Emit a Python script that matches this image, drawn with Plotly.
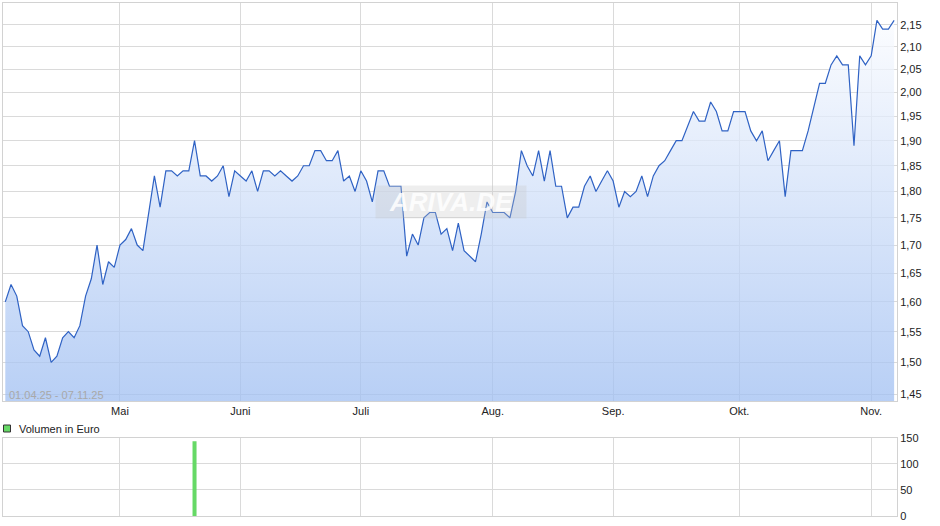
import math
import pandas as pd
import plotly.graph_objects as go

# ---------------- data ----------------
holidays = ["2025-04-18", "2025-04-21", "2025-05-01"]
dates = [d.strftime("%Y-%m-%d") for d in pd.bdate_range("2025-04-01", "2025-11-07")
         if d.strftime("%Y-%m-%d") not in holidays]

prices = [
    1.60, 1.63, 1.61, 1.56, 1.55, 1.52, 1.51, 1.54, 1.50, 1.51,
    1.54, 1.55, 1.54, 1.56, 1.61, 1.64, 1.70, 1.63, 1.67, 1.66,
    1.70, 1.71, 1.73, 1.70, 1.69, 1.76, 1.83, 1.77, 1.84, 1.84,
    1.83, 1.84, 1.84, 1.90, 1.83, 1.83, 1.82, 1.83, 1.85, 1.79,
    1.84, 1.83, 1.82, 1.84, 1.80, 1.84, 1.84, 1.83, 1.84, 1.83,
    1.82, 1.83, 1.85, 1.85, 1.88, 1.88, 1.86, 1.86, 1.88, 1.82,
    1.83, 1.80, 1.84, 1.82, 1.78, 1.84, 1.84, 1.81, 1.81, 1.81,
    1.68, 1.72, 1.70, 1.75, 1.76, 1.76, 1.72, 1.73, 1.69, 1.74,
    1.69, 1.68, 1.67, 1.72, 1.78, 1.76, 1.76, 1.76, 1.75, 1.80,
    1.88, 1.85, 1.83, 1.88, 1.82, 1.88, 1.81, 1.81, 1.75, 1.77,
    1.77, 1.81, 1.83, 1.80, 1.82, 1.84, 1.82, 1.77, 1.80, 1.79,
    1.80, 1.83, 1.79, 1.83, 1.85, 1.86, 1.88, 1.90, 1.90, 1.93,
    1.96, 1.94, 1.94, 1.98, 1.96, 1.92, 1.92, 1.96, 1.96, 1.96,
    1.92, 1.90, 1.92, 1.86, 1.88, 1.90, 1.79, 1.88, 1.88, 1.88,
    1.92, 1.97, 2.02, 2.02, 2.06, 2.08, 2.06, 2.06, 1.89, 2.08,
    2.06, 2.08, 2.16, 2.14, 2.14, 2.16,
]

volume_dates = ["2025-05-21"]
volume_values = [143]

price_ticks = [1.45, 1.50, 1.55, 1.60, 1.65, 1.70, 1.75, 1.80,
               1.85, 1.90, 1.95, 2.00, 2.05, 2.10, 2.15]
volume_ticks = [0, 50, 100, 150]
month_labels = ["Mai", "Juni", "Juli", "Aug.", "Sep.", "Okt.", "Nov."]
date_range_label = "01.04.25 - 07.11.25"
volume_label = "Volumen in Euro"
watermark = "ARIVA.DE"

# first trading day of each month (after April)
month_starts = []
seen = set()
for d in dates:
    if d[:7] not in seen:
        seen.add(d[:7])
        month_starts.append(d)
month_starts = month_starts[1:]

# ---------------- layout helpers ----------------
W, H = 940, 526
ML, MR, MT, MB = 3, 43, 3, 10
PW = W - ML - MR
PH = H - MT - MB


def xp(px):
    return (px - ML) / PW


def yp(py):
    return (H - MB - py) / PH


FONT = "Liberation Sans, Arial, sans-serif"
GRID = "#dadada"
TXT = "#222222"

fig = go.Figure()

fig.add_trace(go.Scatter(
    x=dates, y=prices, mode="lines",
    line=dict(color="#2f62c4", width=1.2),
    fill="tozeroy",
    fillgradient=dict(
        type="vertical", start=1.44, stop=2.18,
        colorscale=[[0, "rgba(160,191,242,0.75)"], [1, "rgba(252,253,255,0.75)"]],
    ),
    hoverinfo="skip", showlegend=False,
    xaxis="x", yaxis="y",
))

fig.add_trace(go.Bar(
    x=volume_dates, y=volume_values, width=0.7,
    marker=dict(color="#66d966", line=dict(width=0)),
    hoverinfo="skip", showlegend=False,
    xaxis="x2", yaxis="y2",
))

xr = [-0.4, len(dates) - 0.5]

common_x = dict(
    type="category", categoryorder="array", categoryarray=dates,
    range=xr, tickvals=month_starts, ticktext=month_labels,
    showgrid=True, gridcolor=GRID, gridwidth=1, zeroline=False,
    showline=True, mirror=True, linecolor="#d2d2d2", linewidth=1,
    ticks="", automargin=False,
    tickfont=dict(family=FONT, size=11, color=TXT),
)

fig.update_layout(
    width=W, height=H,
    margin=dict(l=ML, r=MR, t=MT, b=MB, pad=0, autoexpand=False),
    paper_bgcolor="white", plot_bgcolor="white",
    separators=",.",
    showlegend=False,
    xaxis=dict(common_x, domain=[0, 1], anchor="y"),
    yaxis=dict(
        type="log", range=[math.log10(1.4396), math.log10(2.2005)],
        domain=[yp(401), 1], anchor="x", side="right",
        tickvals=price_ticks, tickformat=".2f", automargin=False,
        showgrid=True, gridcolor=GRID, zeroline=False,
        showline=True, mirror=True, linecolor="#d2d2d2",
        ticks="", tickfont=dict(family=FONT, size=11, color=TXT),
    ),
    xaxis2=dict(common_x, domain=[0, 1], anchor="y2", showticklabels=False),
    yaxis2=dict(
        range=[0, 150], domain=[0, yp(437.7)], anchor="x2", side="right",
        tickvals=volume_ticks, showgrid=True, gridcolor=GRID, zeroline=False,
        showline=True, mirror=True, linecolor="#d2d2d2", automargin=False,
        ticks="", tickfont=dict(family=FONT, size=11, color=TXT),
    ),
    annotations=[
        dict(text=date_range_label, xref="paper", yref="paper",
             x=xp(7), y=yp(395), xanchor="left", yanchor="middle",
             showarrow=False, font=dict(family=FONT, size=11, color="#a8a8a8")),
        dict(text=volume_label, xref="paper", yref="paper",
             x=xp(17), y=yp(428.5), xanchor="left", yanchor="middle",
             showarrow=False, font=dict(family=FONT, size=11, color=TXT)),
        dict(text=watermark, xref="paper", yref="paper",
             x=xp(451), y=yp(202), xanchor="center", yanchor="middle",
             width=148, height=30, bgcolor="rgba(200,200,200,0.30)",
             showarrow=False,
             font=dict(family=FONT, size=26, color="rgba(255,255,255,0.85)",
                       weight="bold", style="italic")),
    ],
    shapes=[
        dict(type="rect", xref="paper", yref="paper",
             x0=xp(3.5), x1=xp(10.5), y0=yp(432), y1=yp(425),
             fillcolor="#66d966", line=dict(color="#333333", width=1)),
    ],
)

fig.write_html("out.html", config={"displayModeBar": False},
               post_script="document.body.style.margin='0';document.body.style.overflow='hidden';")
